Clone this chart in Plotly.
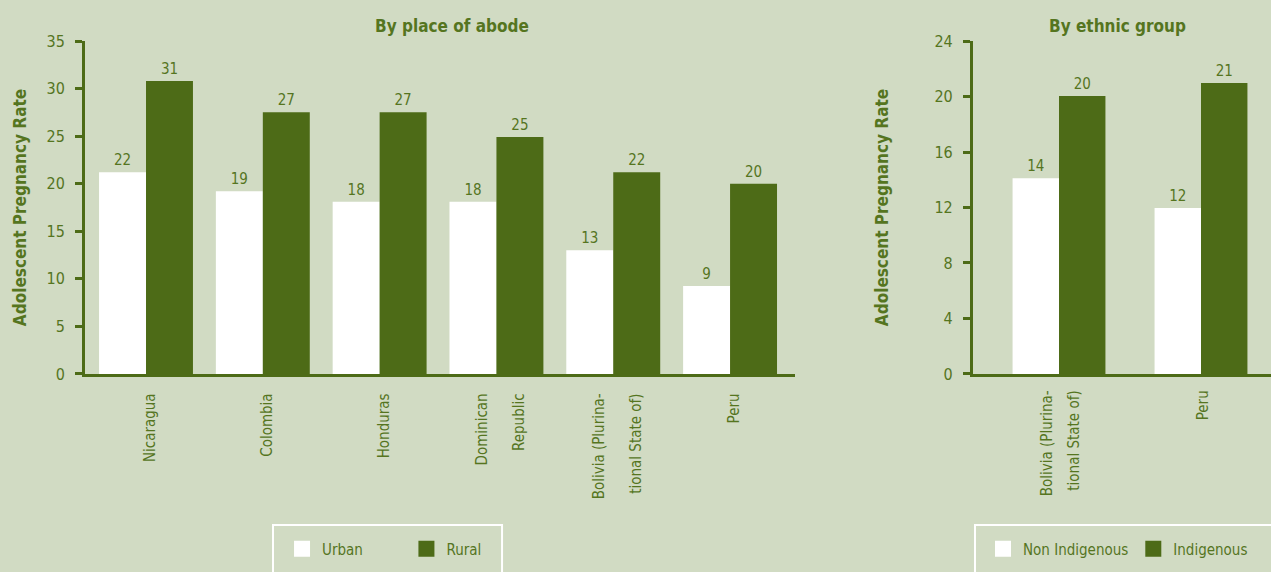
import plotly.graph_objects as go

# By place of abode
place_categories = ["Nicaragua", "Colombia", "Honduras", "Dominican<br>Republic",
                    "Bolivia (Plurina-<br>tional State of)", "Peru"]
urban_values = [21.2, 19.2, 18.1, 18.1, 13.0, 9.25]
urban_labels = ["22", "19", "18", "18", "13", "9"]
rural_values = [30.8, 27.5, 27.5, 24.9, 21.2, 20.0]
rural_labels = ["31", "27", "27", "25", "22", "20"]

# By ethnic group
ethnic_categories = ["Bolivia (Plurina-<br>tional State of)", "Peru"]
non_indigenous_values = [14.1, 11.96]
non_indigenous_labels = ["14", "12"]
indigenous_values = [20.04, 20.97]
indigenous_labels = ["20", "21"]

BG = "#d1dbc3"
GREEN = "#4d6b17"
TEXT = "#55751f"
FONT = "Liberation Sans Narrow, DejaVu Sans Condensed, sans-serif"
NBSP = "\u00a0"


def small(label, size=15):
    # wrap each line so the base font can drive the line spacing
    return "<br>".join(f"<span style='font-size:{size}px'>{p}</span>" for p in label.split("<br>"))


def bar(x, y, labels, color, offset, width, xa, ya):
    return go.Bar(
        x=x, y=y, text=labels, textposition="outside",
        textfont=dict(size=15, color=TEXT), cliponaxis=False,
        marker=dict(color=color, line=dict(width=0)),
        offset=offset, width=width, showlegend=False,
        xaxis=xa, yaxis=ya, hoverinfo="x+y",
    )


def legend_key(name, color, legend):
    return go.Scatter(
        x=[None], y=[None], mode="markers", name=name, legend=legend,
        marker=dict(symbol="square", size=16, color=color, line=dict(width=0)),
    )


fig = go.Figure()
fig.add_trace(bar(place_categories, urban_values, urban_labels, "white", -0.402, 0.402, "x", "y"))
fig.add_trace(bar(place_categories, rural_values, rural_labels, GREEN, 0, 0.402, "x", "y"))
fig.add_trace(bar(ethnic_categories, non_indigenous_values, non_indigenous_labels, "white", -0.327, 0.327, "x2", "y2"))
fig.add_trace(bar(ethnic_categories, indigenous_values, indigenous_labels, GREEN, 0, 0.327, "x2", "y2"))
fig.add_trace(legend_key("Urban" + NBSP * 9, "white", "legend"))
fig.add_trace(legend_key("Rural", GREEN, "legend"))
fig.add_trace(legend_key("Non Indigenous", "white", "legend2"))
fig.add_trace(legend_key("Indigenous", GREEN, "legend2"))

yaxis_common = dict(
    showline=True, linecolor=GREEN, linewidth=3, ticks="outside", ticklen=7,
    tickwidth=3, tickcolor=GREEN, showgrid=False, zeroline=False, automargin=False,
    ticklabelstandoff=7,
    tickfont=dict(size=16, color=TEXT), title_font=dict(size=17, color=TEXT,
                                                         family=FONT, weight="bold"),
)
xaxis_common = dict(
    type="category", showline=True, linecolor=GREEN, linewidth=3, ticks="",
    showgrid=False, tickangle=-90, ticklabelstandoff=5, automargin=False,
)
legend_common = dict(
    orientation="h", xref="paper", yref="paper", yanchor="middle", y=0.0402,
    bgcolor="rgba(0,0,0,0)", borderwidth=0, font=dict(size=15, color=TEXT),
)

fig.update_layout(
    width=1271, height=572, margin=dict(l=0, r=0, t=0, b=0),
    paper_bgcolor=BG, plot_bgcolor=BG, template="none",
    font=dict(family=FONT, color=TEXT, size=15),
    barmode="overlay",
    xaxis=dict(xaxis_common, domain=[0.0669, 0.6255], range=[-0.522, 5.556], anchor="y",
               tickvals=place_categories, ticktext=[small(c) for c in place_categories],
               tickfont=dict(size=28.5, color=TEXT)),
    yaxis=dict(yaxis_common, domain=[0.3462, 0.9283], range=[0, 35], dtick=5, anchor="x",
               title=dict(text="Adolescent Pregnancy Rate", standoff=16)),
    xaxis2=dict(xaxis_common, domain=[0.7655, 1.0], range=[-0.606, 1.493], anchor="y2",
                tickvals=ethnic_categories, ticktext=[small(c) for c in ethnic_categories],
                tickfont=dict(size=20.8, color=TEXT)),
    yaxis2=dict(yaxis_common, domain=[0.3462, 0.9283], range=[0, 24], dtick=4, anchor="x2",
                title=dict(text="Adolescent Pregnancy Rate", standoff=42)),
    legend=dict(legend_common, x=0.2219, xanchor="left"),
    legend2=dict(legend_common, x=0.7734, xanchor="left"),
    annotations=[
        dict(text="<b>By place of abode</b>", xref="paper", yref="paper", x=0.3556, y=0.9545,
             xanchor="center", yanchor="middle", showarrow=False, font=dict(size=17, color=TEXT)),
        dict(text="<b>By ethnic group</b>", xref="paper", yref="paper", x=0.879, y=0.9545,
             xanchor="center", yanchor="middle", showarrow=False, font=dict(size=17, color=TEXT)),
    ],
    shapes=[
        dict(type="line", xref="x domain", x0=0, x1=0, yref="y", ysizemode="pixel",
             yanchor=0, y0=0, y1=-8, line=dict(color=GREEN, width=3)),
        dict(type="line", xref="x2 domain", x0=0, x1=0, yref="y2", ysizemode="pixel",
             yanchor=0, y0=0, y1=-8, line=dict(color=GREEN, width=3)),
        # legend frames, open at the bottom edge like the original
        dict(type="rect", xref="paper", yref="paper", x0=0.2148, x1=0.395, y0=-0.05, y1=0.0822,
             line=dict(color="white", width=2), fillcolor="rgba(0,0,0,0)"),
        dict(type="rect", xref="paper", yref="paper", x0=0.7671, x1=1.05, y0=-0.05, y1=0.0822,
             line=dict(color="white", width=2), fillcolor="rgba(0,0,0,0)"),
    ],
)

fig.write_html("out.html", config={"displayModeBar": False},
               post_script="document.body.style.margin='0';")
